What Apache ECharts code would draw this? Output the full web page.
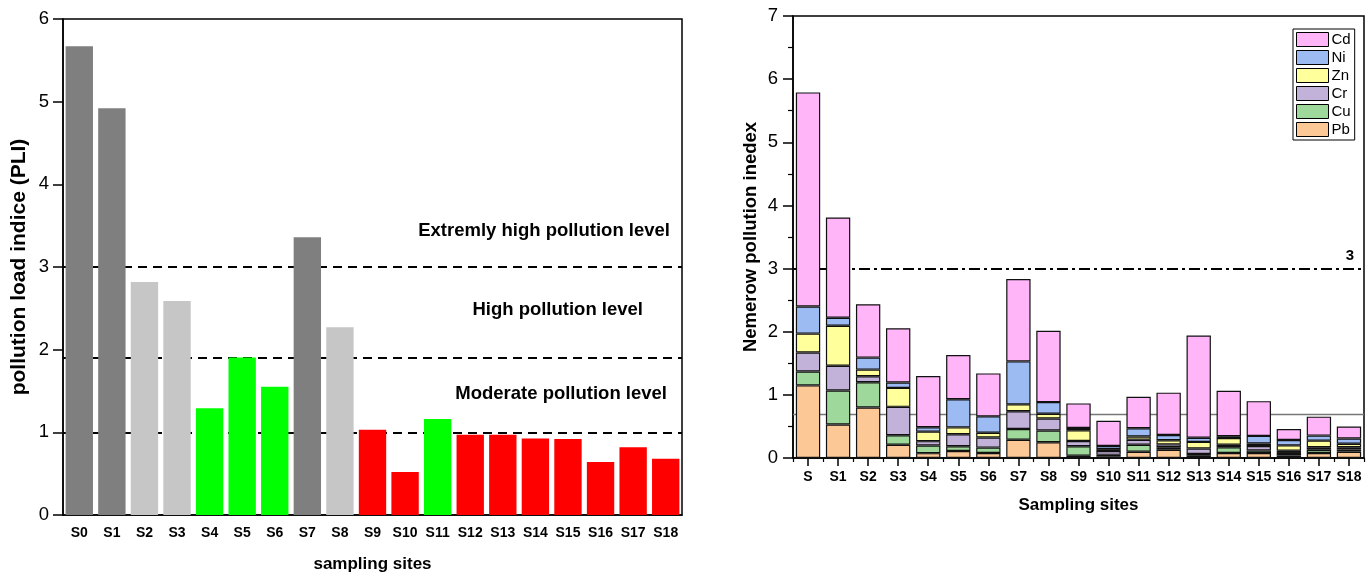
<!DOCTYPE html>
<html><head><meta charset="utf-8">
<script src="https://cdn.jsdelivr.net/npm/echarts/dist/echarts.min.js"></script>
<style>html,body{margin:0;padding:0;background:#fff}#c{width:1371px;height:578px}</style>
</head><body><div id="c"></div>
<script>
// ---- Left panel data (PLI) ----
const pliSites = ['S0','S1','S2','S3','S4','S5','S6','S7','S8','S9','S10','S11','S12','S13','S14','S15','S16','S17','S18'];
const pliValues = [5.67,4.92,2.82,2.59,1.29,1.905,1.55,3.36,2.27,1.03,0.52,1.16,0.97,0.97,0.925,0.92,0.64,0.82,0.68];
const pliLevels = ['extreme','extreme','high','high','moderate','moderate','moderate','extreme','high','low','low','moderate','low','low','low','low','low','low','low'];
const pliThresholds = [3, 1.9, 1];
const pliZoneLabels = ['Extremly high pollution level','High pollution level','Moderate pollution level'];

// ---- Right panel data (Nemerow) ----
const nemSites = ['S','S1','S2','S3','S4','S5','S6','S7','S8','S9','S10','S11','S12','S13','S14','S15','S16','S17','S18'];
const Pb = [1.15,0.53,0.80,0.21,0.077,0.11,0.08,0.29,0.25,0.035,0.02,0.10,0.13,0.035,0.08,0.08,0.04,0.08,0.10];
const Cu = [0.22,0.54,0.40,0.15,0.12,0.075,0.085,0.17,0.185,0.15,0.03,0.11,0.04,0.03,0.09,0.04,0.04,0.05,0.035];
const Cr = [0.30,0.39,0.095,0.45,0.07,0.19,0.16,0.28,0.19,0.085,0.06,0.08,0.045,0.085,0.04,0.07,0.035,0.04,0.035];
const Zn = [0.30,0.635,0.105,0.30,0.15,0.11,0.075,0.11,0.075,0.17,0.03,0.05,0.065,0.105,0.105,0.04,0.085,0.105,0.055];
const Ni = [0.43,0.125,0.19,0.085,0.07,0.445,0.26,0.68,0.185,0.035,0.05,0.13,0.085,0.065,0.03,0.12,0.085,0.08,0.085];
const Cd = [3.39,1.59,0.845,0.86,0.81,0.70,0.68,1.305,1.13,0.39,0.40,0.50,0.67,1.62,0.72,0.55,0.175,0.30,0.19];
const metalNames = ['Pb','Cu','Cr','Zn','Ni','Cd'];
const metalValues = [Pb, Cu, Cr, Zn, Ni, Cd];
const legendOrder = ['Cd','Ni','Zn','Cr','Cu','Pb'];
const nemRefHigh = 3;
const nemRefLow = 0.7;

// ---- Styles ----
const FONT = 'Arial, "Liberation Sans", sans-serif';
const levelColor = {extreme:'#7f7f7f', high:'#c6c6c6', moderate:'#00ff00', low:'#ff0000'};
const metalColor = {Cd:'#ffb5f8', Ni:'#9bbbf2', Zn:'#ffff9c', Cr:'#c2b2d9', Cu:'#9ed89b', Pb:'#fcc895'};

const chart = echarts.init(document.getElementById('c'), null, {renderer:'canvas'});
const rightGridHeight = 442;

const option = {
  animation: false,
  backgroundColor: '#fff',
  textStyle: {fontFamily: FONT, color:'#000'},
  grid: [
    {left:63, top:19, width:619, height:498, show:true, borderColor:'#000', borderWidth:1.5, backgroundColor:'transparent'},
    {left:793, top:16, width:571, height:rightGridHeight, show:true, borderColor:'#000', borderWidth:1.5, backgroundColor:'transparent'}
  ],
  legend: {
    data: legendOrder,
    orient: 'vertical',
    left: 1293, top: 29,
    itemWidth: 32, itemHeight: 14, itemGap: 3,
    padding: [3,4,3,3],
    borderColor: '#000', borderWidth: 1,
    icon: 'rect',
    itemStyle: {borderColor:'#000', borderWidth:1},
    textStyle: {fontFamily: FONT, fontSize: 15, color:'#000', padding:[0,0,0,-2]}
  },
  xAxis: [
    {
      gridIndex:0, type:'category', data: pliSites, position:'bottom',
      axisLine:{lineStyle:{color:'#000', width:1.5}},
      axisTick:{show:false},
      axisLabel:{fontFamily:FONT, fontWeight:'bold', fontSize:14, color:'#000', margin:11, interval:0},
      name:'sampling sites', nameLocation:'middle', nameGap:41,
      nameTextStyle:{fontFamily:FONT, fontWeight:'bold', fontSize:17, color:'#000'}
    },
    {
      gridIndex:1, type:'category', data: nemSites, position:'bottom',
      axisLine:{lineStyle:{color:'#000', width:1.5}},
      axisTick:{show:true, alignWithLabel:true, length:8, lineStyle:{color:'#000', width:1.5}},
      axisLabel:{fontFamily:FONT, fontWeight:'bold', fontSize:14, color:'#000', margin:12, interval:0},
      name:'Sampling sites', nameLocation:'middle', nameGap:39,
      nameTextStyle:{fontFamily:FONT, fontWeight:'bold', fontSize:17, color:'#000'}
    },
    {
      // secondary axis carrying the short boundary ticks; moved to the bottom edge
      gridIndex:1, type:'category', data: nemSites, position:'top', offset:-rightGridHeight,
      axisLine:{show:false},
      axisTick:{show:true, inside:true, length:4, lineStyle:{color:'#000', width:1.2}},
      axisLabel:{show:false}
    }
  ],
  yAxis: [
    {
      gridIndex:0, type:'value', min:0, max:6, interval:1,
      axisLine:{show:true, lineStyle:{color:'#000', width:1.5}},
      axisTick:{show:true, length:10, lineStyle:{color:'#000', width:1.5}},
      splitLine:{show:false},
      axisLabel:{fontFamily:FONT, fontSize:18.5, color:'#000', margin:14},
      name:'pollution load indice (PLI)', nameLocation:'middle', nameGap:33,
      nameTextStyle:{fontFamily:FONT, fontWeight:'bold', fontSize:21, color:'#000'}
    },
    {
      gridIndex:1, type:'value', min:0, max:7, interval:1,
      axisLine:{show:true, lineStyle:{color:'#000', width:1.5}},
      axisTick:{show:true, length:10, lineStyle:{color:'#000', width:1.5}},
      minorTick:{show:true, splitNumber:2, length:5, lineStyle:{color:'#000', width:1.2}},
      splitLine:{show:false},
      axisLabel:{fontFamily:FONT, fontSize:18.5, color:'#000', margin:15},
      name:'Nemerow pollution inedex', nameLocation:'middle', nameGap:33,
      nameTextStyle:{fontFamily:FONT, fontWeight:'bold', fontSize:18.5, color:'#000'}
    }
  ],
  series: [
    {
      type:'bar', xAxisIndex:0, yAxisIndex:0, z:3,
      barCategoryGap:'16%',
      data: pliValues.map((v,i)=>({value:v, itemStyle:{color: levelColor[pliLevels[i]]}})),
      markLine: {
        silent:true, symbol:'none', z:1,
        lineStyle:{color:'#000', type:[9,6], width:2},
        label:{show:false},
        data: pliThresholds.map(t=>({yAxis:t}))
      }
    }
  ].concat(metalNames.map((m, k) => ({
      name:m, type:'bar', stack:'nem', xAxisIndex:1, yAxisIndex:1, z:3,
      barCategoryGap:'19%',
      itemStyle:{color: metalColor[m], borderColor:'#111', borderWidth:1.2},
      data: metalValues[k],
      markLine: k === 0 ? {
        silent:true, symbol:'none', z:1,
        data: [
          {yAxis: nemRefHigh, lineStyle:{color:'#000', width:2, type:[11,4,3,4]},
           label:{show:true, position:'insideEndTop', formatter:String(nemRefHigh), fontFamily:FONT, fontWeight:'bold', fontSize:15, color:'#000', distance:[10,5]}},
          {yAxis: nemRefLow, lineStyle:{color:'#777', width:1.3, type:'solid'}, label:{show:false}}
        ]
      } : undefined
  }))),
  graphic: pliZoneLabels.map((t, i) => ({
    type:'text', right:[701,728,704][i], top:[221,300,384][i], z:10,
    style:{text:t, font:'bold 18.5px ' + FONT, fill:'#000'}
  }))
};
chart.setOption(option);
</script>
</body></html>
